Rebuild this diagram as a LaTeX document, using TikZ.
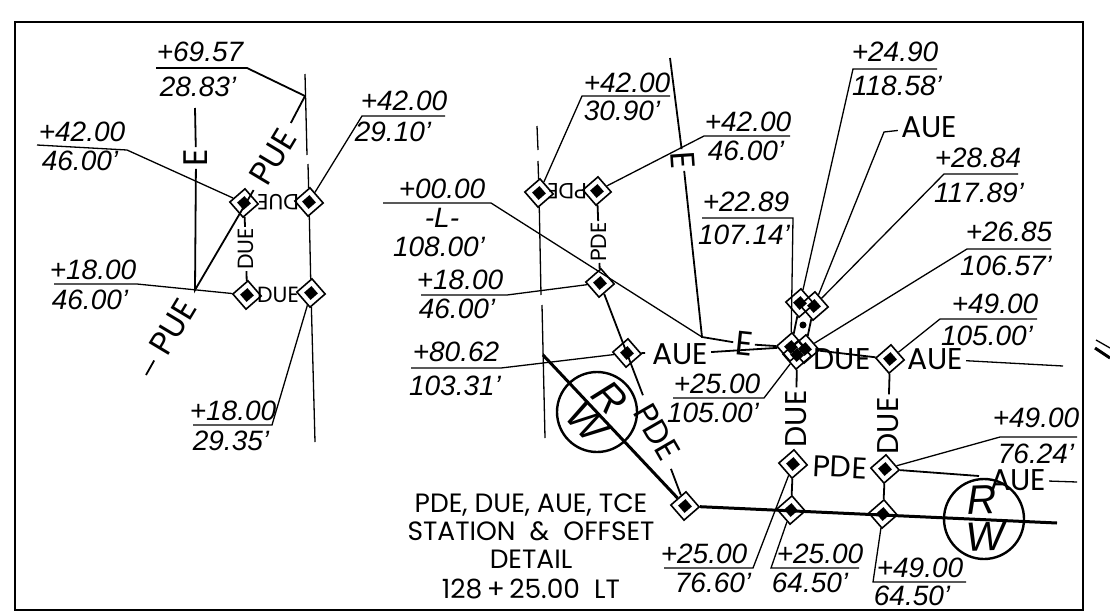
\documentclass[tikz,border=0pt]{standalone}
\usepackage{fontspec}
\setmainfont{Liberation Sans}
\newfontfamily\capfont{Poppins}
\usetikzlibrary{positioning,shapes.geometric}
\tikzset{%
	frame/.style    = {line width=2pt},
	leader/.style   = {line width=1.3pt},
	heavy/.style    = {line width=1.8pt},
	row/.style      = {line width=3pt},
	monument/.style = {draw, diamond, line width=1.6pt, minimum size=29pt, inner sep=0pt, rotate=-4},
	monucore/.style = {diamond, fill=black, minimum size=14pt, inner sep=0pt, rotate=-4},
	stalabel/.style = {anchor=base, inner sep=0pt, font=\fontsize{28}{28}\selectfont\itshape},
	smallcap/.style = {inner sep=1pt, font=\capfont\fontsize{22}{22}\selectfont},
	bigcap/.style   = {inner sep=3pt, font=\capfont\fontsize{30}{30}\selectfont},
	hugecap/.style  = {inner sep=2pt, font=\capfont\fontsize{34}{34}\selectfont},
	slantcap/.style = {inner sep=9pt, font=\capfont\fontsize{33}{33}\selectfont},
	titletext/.style= {anchor=base, inner sep=0pt, font=\capfont\fontsize{26.5}{26.5}\selectfont},
	rwtext/.style   = {inner sep=0pt, font=\fontsize{41}{41}\selectfont\itshape},
}
\begin{document}
\begin{tikzpicture}[x=1pt,y=-1pt]
	\useasboundingbox (0,0) rectangle (1110,613);
	\draw[frame] (15,22) rectangle (1083,610);
	
	\foreach \mname/\mx/\my in {mA/244/203,mB/309/202,mC/247/295,mD/311/293,mE/539/193,mF/597/191,mG/600/283,mH/627/353,mJ/685/506,mK/793/464,mL/791/510,mM/885/469,mN/883/514,mP/800/303,mQ/814/306,mR/791/347,mS/805/349,mT/797/355,mU/890/359} {
		\node[monument] (\mname) at (\mx,\my) {};
		\node[monucore] (\mname c) at (\mx,\my) {};
	}
	
	\foreach \lname/\lx/\ly/\ltxt in {aT/200/61/+69.57,aB/198/96/28.83',bT/82/141/+42.00,bB/80/170/46.00',cT/93/279/+18.00,cB/90/309/46.00',dT/233/420/+18.00,dB/231/450/29.35',fT/404/110/+42.00,fB/393/141/29.10',gT/442/198/+00.00,gM/442/227/-L-,gB/439/256/108.00',hT/460/289/+18.00,hB/457/318/46.00',jT/456/361/+80.62,jB/455/395/103.31',kT/627/92/+42.00,kB/622/120/30.90',lT/748/131/+42.00,lB/746/160/46.00',nT/746/211/+22.89,nB/744/244/107.14',pT/895/61/+24.90,pB/897/95/118.58',qT/978/167/+28.84,qB/979/202/117.89',rT/1009/241/+26.85,rB/1006/275/106.57',sT/995/313/+49.00,sB/987/345/105.00',tT/717/393/+25.00,tB/713/422/105.00',uT/1036/427/+49.00,uB/1036/463/76.24',vT/704/563/+25.00,vB/713/592/76.60',wT/820/563/+25.00,wB/810/592/64.50',xT/920/577/+49.00,xB/912/605/64.50'} \node[stalabel] (\lname) at (\lx,\ly) {\ltxt};
	
	\foreach \cname/\cx/\cy in {a1/156/68,a2/247/68,b1/37/145,b2/127/150,c1/54/284,c2/137/284,d1/193/425,d2/272/425,f1/445/116,f2/362/116,g1/383/203,g2/491/203,h1/421/295,h2/507/295,j1/411/368,j2/501/368,k1/670/96,k2/582/96,l1/790/136,l2/704/136,n1/702/218,n2/793/218,p1/937/69,p2/853/69,q1/1018/174,q2/944/174,r1/1051/249,r2/967/249,s1/1037/319,s2/940/319,t1/673/398,t2/764/398,u1/1077/437,u2/1000/437,v1/664/568,v2/753/568,w1/859/568,w2/771/568,x1/966/582,x2/873/582,au1/884/132,ra/305/74,rb/307/155,rc/308/164,rd/315/442,rm/305/96,re/537/126,rf/538/150,rg/538/161,rh/541/295,ri/542/305,rj/545/438,ea/195/108,eb/195/290,ec/670/58,ed/702/337,pl/146/375,rw/543/355,re2/1057/523,tk/645/353,ae/1063/366,af/979/476,ag/1077/482,fa/1096/340,fb/1110/348,fc/1095/348,fd/1110/358} \coordinate (\cname) at (\cx,\cy);
	
	% text on the lines
	\node[hugecap,rotate=90] (eL) at (196,158) {E};
	\node[hugecap,rotate=-86] (eR) at (683,160) {E};
	\node[hugecap,rotate=-6] (eM) at (744,344) {E};
	\node[slantcap,rotate=59] (pueU) at (273,157) {PUE};
	\node[slantcap,rotate=59] (pueL) at (173,327) {PUE};
	\node[smallcap,rotate=180] (dueM) at (278,202) {DUE};
	\node[smallcap,rotate=90] (dueV) at (246,249) {DUE};
	\node[smallcap] (dueH) at (278,295) {DUE};
	\node[smallcap,rotate=180] (pdeM) at (567,191) {PDE};
	\node[smallcap,rotate=90] (pdeV) at (599,242) {PDE};
	\node[slantcap,rotate=-60] (pdeS) at (657,432) {PDE};
	\node[bigcap] (aueH) at (680,354) {AUE};
	\node[bigcap] (aueT) at (929,127) {AUE};
	\node[bigcap] (aueE) at (935,359) {AUE};
	\node[bigcap] (aueF) at (1018,480) {AUE};
	\node[bigcap] (dueE) at (842,359) {DUE};
	\node[bigcap,rotate=90] (dueA) at (796,419) {DUE};
	\node[bigcap,rotate=90] (dueB) at (888,426) {DUE};
	\node[bigcap,rotate=-3] (pdeH) at (840,467) {PDE};
	
	\node[titletext] (ttA) at (531,512) {PDE, DUE, AUE, TCE};
	\node[titletext] (ttB) at (531,540) {STATION \ \& \ OFFSET};
	\node[titletext] (ttC) at (531,568) {DETAIL};
	\node[titletext] (ttD) at (531,598) {128\,+\,25.00 \ LT};
	
	\node[draw,circle,line width=2.4pt,minimum size=80pt,inner sep=0pt] (rwA) at (597,412) {};
	\node[rwtext,rotate=-47] (rwAr) at (610,398) {R};
	\node[rwtext,rotate=-47] (rwAw) at (587,422) {W};
	\node[draw,circle,line width=2.4pt,minimum size=80pt,inner sep=0pt] (rwB) at (984,519) {};
	\node[rwtext,rotate=2] (rwBr) at (982,500) {R};
	\node[rwtext,rotate=2] (rwBw) at (985,537) {W};
	
	% road lines
	\draw[leader] (ra) -- (rb) (rc) -- (mB) -- (mD) -- (rd);
	\draw[leader] (re) -- (rf) (rg) -- (mE) -- (rh) (ri) -- (rj);
	\draw[heavy] (ea) -- (eL) -- (eb) -- (pueU) -- (rm);
	\draw[heavy] (pueL) -- (pl);
	\draw[heavy] (ec) -- (eR) -- (ed) -- (eM) -- (mR);
	\draw[heavy] (aueH) -- (mR);
	\draw[heavy] (mS) -- (mU);
	\draw[heavy] (mH) -- (tk);
	\draw[leader] (aueE) -- (ae);
	\draw[heavy] (mM) -- (af);
	\draw[leader] (aueF) -- (ag);
	\draw[heavy] (mA) -- (dueV) -- (mC);
	\draw[heavy] (mF) -- (pdeV) -- (mG);
	\draw[heavy] (mG) -- (pdeS) -- (mJ);
	\draw[heavy] (mT) -- (dueA);
	\draw[heavy] (mU) -- (dueB);
	\draw[heavy] (mK) -- (mL);
	\draw[heavy] (mM) -- (mN);
	\draw[heavy] (mP) -- (mR);
	\draw[heavy] (mQ) -- (mS);
	\fill (803,325) circle (3.5);
	\draw[row] (rw) -- (mJ) -- (re2);
	
	% leaders
	\draw[heavy] (a1) -- (a2) -- (rm);
	\draw[leader] (b1) -- (b2) -- (mA);
	\draw[leader] (c1) -- (c2) -- (mC);
	\draw[leader] (d1) -- (d2) -- (mD);
	\draw[leader] (f1) -- (f2) -- (mB);
	\draw[leader] (g1) -- (g2) -- (ed);
	\draw[leader] (h1) -- (h2) -- (mG);
	\draw[leader] (j1) -- (j2) -- (mH);
	\draw[leader] (k1) -- (k2) -- (mE);
	\draw[leader] (l1) -- (l2) -- (mF);
	\draw[leader] (n1) -- (n2) -- (mR);
	\draw[leader] (p1) -- (p2) -- (mP);
	\draw[leader] (aueT) -- (au1) -- (mQ);
	\draw[leader] (q1) -- (q2) -- (mQ);
	\draw[leader] (r1) -- (r2) -- (mS);
	\draw[leader] (s1) -- (s2) -- (mU);
	\draw[leader] (t1) -- (t2) -- (mT);
	\draw[leader] (u1) -- (u2) -- (mM);
	\draw[leader] (v1) -- (v2) -- (mK);
	\draw[leader] (w1) -- (w2) -- (mL);
	\draw[leader] (x1) -- (x2) -- (mN);
	
	\draw[leader] (fa) -- (fb);
	\draw[row] (fc) -- (fd);
\end{tikzpicture}
\end{document}
